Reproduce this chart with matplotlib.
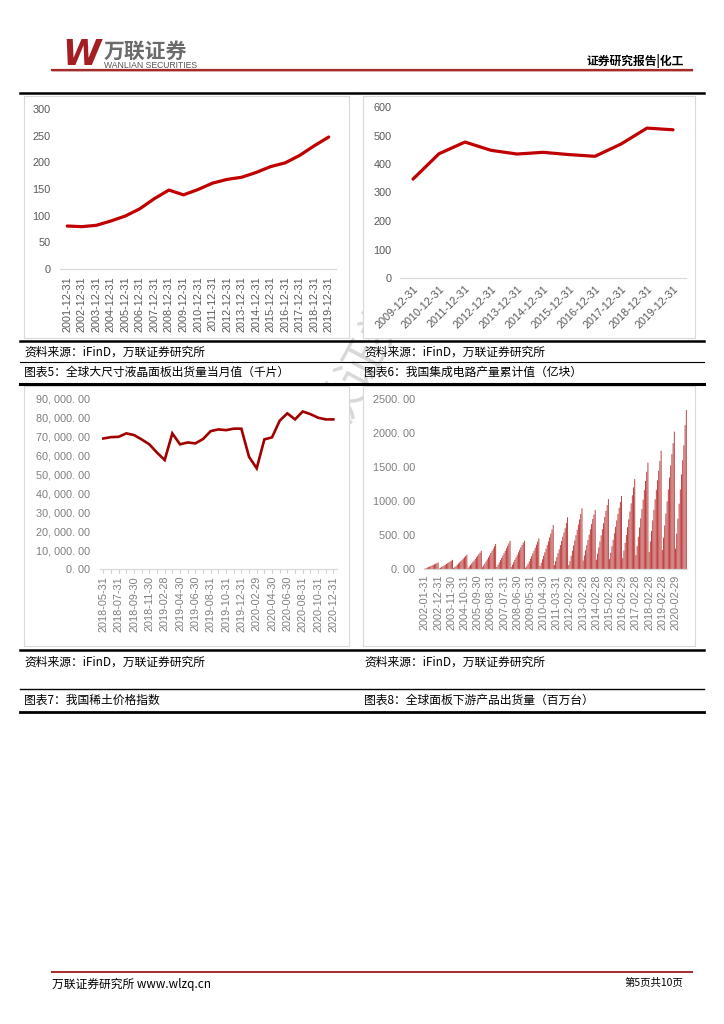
import matplotlib
matplotlib.use('Agg')
import matplotlib.pyplot as plt
from matplotlib.lines import Line2D
import pandas as pd

W, H = 724, 1024
CJK = ['Noto Sans CJK SC', 'DejaVu Sans']
plt.rcParams['font.family'] = ['Liberation Sans', 'DejaVu Sans']

# ---- data ----
# chart 1: yearly values (unnamed global series, 2001-2019)
c1_labels = ['%d-12-31' % y for y in range(2001, 2020)]
c1_values = [80.6, 79.4, 81.9, 90, 99.4, 113, 132, 148, 139, 149, 161, 168, 172,
             181, 192, 199, 213, 231, 247.5]

# chart 2: yearly values 2009-2019
c2_labels = ['%d-12-31' % y for y in range(2009, 2020)]
c2_values = [347, 436, 477, 448, 435, 441, 433, 427, 470, 526, 520]

# chart 3: monthly large LCD panel shipments (thousand pieces)
c3_dates = ['2018-05-31', '2018-06-30', '2018-07-31', '2018-08-31', '2018-09-30',
            '2018-10-31', '2018-11-30', '2018-12-31', '2019-02-28', '2019-03-31',
            '2019-04-30', '2019-05-31', '2019-06-30', '2019-07-31', '2019-08-31',
            '2019-09-30', '2019-10-31', '2019-11-30', '2019-12-31', '2020-01-31',
            '2020-02-29', '2020-03-31', '2020-04-30', '2020-05-31', '2020-06-30',
            '2020-07-31', '2020-08-31', '2020-09-30', '2020-10-31', '2020-11-30',
            '2020-12-31']
c3_values = [69100, 69800, 70000, 71800, 70900, 68600, 66000, 61600, 57700, 71800,
             66000, 67000, 66500, 68800, 73000, 73900, 73500, 74300, 74300, 59400,
             53300, 68600, 69700, 78500, 82400, 79200, 83400, 82000, 80100, 79200,
             79200]

# chart 4: China IC output, cumulative (100 million pcs)
c4_years = {
    2002: [6, 13, 21, 29, 37, 45, 53, 61, 69, 78, 86, 96],
    2003: [9, 19, 30, 41, 52, 63, 74, 86, 98, 110, 122, 135],
    2004: [15, 30, 47, 64, 81, 99, 117, 135, 154, 172, 191, 210],
    2005: [19, 39, 60, 81, 103, 125, 148, 171, 195, 219, 243, 268],
    2006: [26, 53, 82, 111, 141, 171, 202, 234, 267, 300, 334, 368],
    2007: [30, 62, 95, 129, 163, 197, 232, 268, 304, 340, 377, 415],
    2008: [31, 64, 99, 135, 171, 208, 245, 282, 318, 353, 386, 417],
    2009: [20, 45, 77, 112, 149, 188, 228, 270, 313, 358, 404, 450],
    2010: [45, 92, 142, 193, 245, 298, 352, 406, 462, 520, 582, 647],
    2011: [58, 115, 174, 232, 291, 352, 413, 474, 537, 600, 677, 760],
    2012: [60, 118, 195, 270, 345, 420, 497, 575, 654, 730, 810, 892],
    2013: [125, 200, 275, 350, 425, 505, 583, 660, 735, 800, 868],
    2014: [138, 225, 315, 405, 495, 585, 675, 765, 855, 940, 1029],
    2015: [145, 240, 335, 430, 525, 620, 715, 810, 900, 985, 1075],
    2016: [160, 270, 385, 500, 615, 730, 845, 965, 1085, 1200, 1323],
    2017: [205, 340, 475, 610, 745, 880, 1020, 1160, 1295, 1430, 1564],
    2018: [250, 405, 560, 715, 870, 1025, 1165, 1305, 1445, 1590, 1740],
    2019: [280, 460, 640, 815, 995, 1170, 1345, 1525, 1690, 1850, 2020],
    2020: [300, 520, 740, 960, 1170, 1390, 1600, 1820, 2118, 2338],
}


def month_ends(year, months):
    return [d.strftime('%Y-%m-%d') for d in
            pd.date_range('%d-%02d-01' % (year, months[0]), periods=len(months), freq='ME')]


c4_dates, c4_values = [], []
for yr, vals in c4_years.items():
    first = 1 if len(vals) == 12 else 2
    c4_dates += month_ends(yr, list(range(first, first + len(vals))))
    c4_values += vals


def rect(x0, y0, x1, y1):
    return [x0 / W, 1 - y1 / H, (x1 - x0) / W, (y1 - y0) / H]


def hline(y, x0, x1, lw, color='black'):
    fig.add_artist(Line2D([x0 / W, x1 / W], [1 - y / H, 1 - y / H], lw=lw, color=color,
                          transform=fig.transFigure, zorder=2))


def ftext(x, y, s, **kw):
    kw.setdefault('va', 'center')
    fig.text(x / W, 1 - y / H, s, **kw)


def frame(x0, y0, x1, y1):
    f = fig.add_axes(rect(x0, y0, x1, y1), zorder=1)
    f.set_xticks([])
    f.set_yticks([])
    for s in f.spines.values():
        s.set_color('#d9d9d9')
        s.set_linewidth(0.8)
    return f


def style(ax, fs=7.5, gray='#595959'):
    ax.set_facecolor('none')
    for s in ['left', 'right', 'top']:
        ax.spines[s].set_visible(False)
    ax.spines['bottom'].set_color('#d9d9d9')
    ax.spines['bottom'].set_linewidth(0.9)
    ax.tick_params(axis='both', length=0, labelsize=fs, colors=gray)


fig = plt.figure(figsize=(W / 100, H / 100), dpi=100)

# watermark (mostly hidden behind chart panels)
ftext(352, 385, '万联证券', fontsize=34, color='#d8d8d8', rotation=62,
      ha='center', family=CJK, zorder=0.5)

# ---- header ----
ftext(62, 55, 'W', fontsize=25, color='#a31f24', fontweight='bold', style='italic',
      family=['DejaVu Sans'])
ftext(104, 51, '万联证券', fontsize=15, color='#6b6b6b', fontweight='bold', family=CJK)
ftext(104, 66, 'WANLIAN SECURITIES', fontsize=6.2, color='#555555')
ftext(684, 61, '证券研究报告|化工', fontsize=8.5, ha='right', fontweight='bold', family=CJK)
hline(69.5, 52, 692, 1.6, '#a52a2a')
hline(71.3, 52, 692, 0.6, '#d8a0a0')

# ---- page rules ----
hline(93, 20, 704, 1.8)
hline(341, 20, 704, 1.8)
hline(362, 20, 704, 0.8)
hline(383.5, 20, 704, 2.2)
hline(650, 20, 704, 1.8)
hline(688.5, 20, 704, 1.0)
hline(712, 20, 704, 2.0)

# ---- chart 1 ----
frame(24, 96, 349, 338)
ax1 = fig.add_axes(rect(60, 109, 336, 269), zorder=2)
ax1.plot(range(len(c1_values)), c1_values, color='#c00000', lw=2.3, solid_capstyle='round')
ax1.set_xlim(-0.5, len(c1_values) - 0.5)
ax1.set_ylim(0, 300)
ax1.set_yticks(range(0, 301, 50))
ax1.set_xticks(range(len(c1_labels)))
ax1.set_xticklabels(c1_labels, rotation=90)
style(ax1, fs=7.8)
ax1.tick_params(axis='y', pad=7)
ax1.tick_params(axis='x', pad=5)

# ---- chart 2 ----
frame(363, 96, 695, 338)
ax2 = fig.add_axes(rect(400, 107, 686, 278), zorder=2)
ax2.plot(range(len(c2_values)), c2_values, color='#c00000', lw=2.3, solid_capstyle='round')
ax2.set_xlim(-0.5, len(c2_values) - 0.5)
ax2.set_ylim(0, 600)
ax2.set_yticks(range(0, 601, 100))
ax2.set_xticks(range(len(c2_labels)))
ax2.set_xticklabels(c2_labels, rotation=45, ha='right', rotation_mode='anchor')
style(ax2, fs=7.8)
ax2.tick_params(axis='y', pad=6)
ax2.tick_params(axis='x', pad=4)

# ---- captions row 1 ----
src = '资料来源：iFinD，万联证券研究所'
ftext(24, 352, src, fontsize=8.5, family=CJK, style='italic')
ftext(364, 352, src, fontsize=8.5, family=CJK, style='italic')
ftext(24, 372.5, '图表5：全球大尺寸液晶面板出货量当月值（千片）', fontsize=8.5, family=CJK)
ftext(364, 372.5, '图表6：我国集成电路产量累计值（亿块）', fontsize=8.5, family=CJK)

# ---- chart 3 ----
frame(24, 386, 349, 646)
ax3 = fig.add_axes(rect(99.5, 399, 337.2, 569), zorder=2)
ax3.plot(range(len(c3_values)), c3_values, color='#a00000', lw=1.9, solid_joinstyle='miter')
ax3.set_xlim(-0.5, len(c3_values) - 0.5)
ax3.set_ylim(0, 90000)
yt3 = list(range(0, 90001, 10000))
ax3.set_yticks(yt3)
ax3.set_yticklabels([format(v, ',.2f').replace(',', ', ').replace('.', '. ') for v in yt3])
ax3.set_xticks(range(len(c3_dates)))
ax3.set_xticklabels([d if i % 2 == 0 else '' for i, d in enumerate(c3_dates)], rotation=90)
style(ax3, fs=7.8, gray='#7f7f7f')
ax3.tick_params(axis='y', pad=7)
ax3.tick_params(axis='x', length=3, color='#d0d0d0', pad=2)

# ---- chart 4 ----
frame(363, 386, 695, 646)
ax4 = fig.add_axes(rect(424.3, 399, 686.9, 569), zorder=2)
bars = ax4.bar(range(len(c4_values)), c4_values, width=0.75, color='#b83232', lw=0)
for b in bars:
    b.set_snap(False)
ax4.set_xlim(-0.5, len(c4_values) - 0.5)
ax4.set_ylim(0, 2500)
yt4 = list(range(0, 2501, 500))
ax4.set_yticks(yt4)
ax4.set_yticklabels([('%.2f' % v).replace('.', '. ') for v in yt4])
ax4.set_xticks(range(0, len(c4_dates), 11))
ax4.set_xticklabels(c4_dates[::11], rotation=90)
style(ax4, fs=7.8, gray='#7f7f7f')
ax4.tick_params(axis='y', pad=6.5)
ax4.tick_params(axis='x', pad=4)

# ---- captions row 2 ----
ftext(24, 662, src, fontsize=8.5, family=CJK, style='italic')
ftext(364, 662, src, fontsize=8.5, family=CJK, style='italic')
ftext(24, 700.5, '图表7：我国稀土价格指数', fontsize=8.5, family=CJK)
ftext(364, 700.5, '图表8：全球面板下游产品出货量（百万台）', fontsize=8.5, family=CJK)

# ---- footer ----
hline(972, 52, 692, 1.4, '#a52a2a')
ftext(52, 984, '万联证券研究所 www.wlzq.cn', fontsize=8.5, family=CJK)
ftext(683, 983, '第5页共10页', fontsize=7.5, ha='right', family=CJK)

fig.savefig('out.png', dpi=100, facecolor='white')
